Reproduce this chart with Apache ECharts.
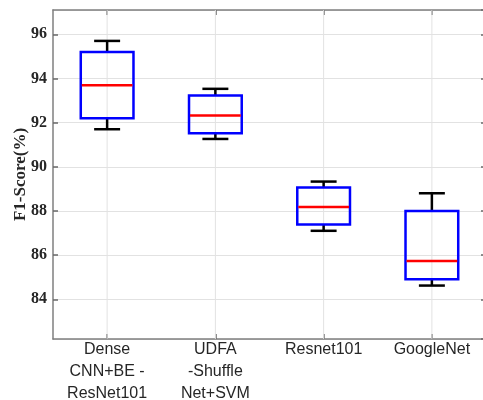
<!DOCTYPE html>
<html>
<head>
<meta charset="utf-8">
<script src="https://cdn.jsdelivr.net/npm/echarts@6/dist/echarts.min.js"></script>
<style>
  html, body { margin: 0; padding: 0; background: #fff; }
  #chart { width: 483px; height: 400px; }
</style>
</head>
<body>
<div id="chart"></div>
<script>
// Model names along the x axis
const categories = ['Dense\nCNN+BE -\nResNet101', 'UDFA\n-Shuffle\nNet+SVM', 'Resnet101', 'GoogleNet'];

// Five-number summaries of F1-score (%) per model
const whiskerLow  = [91.7, 91.26, 87.1, 84.62];
const quartile1   = [92.2, 91.52, 87.38, 84.91];
const medians     = [93.69, 92.32, 88.18, 85.73];
const quartile3   = [95.2, 93.23, 89.06, 88.0];
const whiskerHigh = [95.7, 93.53, 89.33, 88.8];

const yMin = 82.2, yMax = 97.1;

const boxData = categories.map((c, i) => [i, whiskerLow[i], quartile1[i], medians[i], quartile3[i], whiskerHigh[i]]);

const axisGray = '#7f7f7f';
const tickGray = '#6a6a6a';
const serifBold = { fontFamily: '"Liberation Serif", "Times New Roman", serif', fontWeight: 'bold' };

function renderBox(params, api) {
  const i = api.value(0);
  const band = api.size([1, 0])[0];
  const bw = band * 0.487;
  const cw = band * 0.24;
  const p = api.coord([i, api.value(1)]);
  const x = p[0];
  const yLo = p[1];
  const yQ1 = api.coord([i, api.value(2)])[1];
  const yMed = api.coord([i, api.value(3)])[1];
  const yQ3 = api.coord([i, api.value(4)])[1];
  const yHi = api.coord([i, api.value(5)])[1];
  const cs = params.coordSys;
  const black = { stroke: '#000', lineWidth: 2.5 };
  return {
    type: 'group',
    children: [
      { type: 'line', shape: { x1: x, y1: cs.y, x2: x, y2: cs.y + cs.height }, style: { stroke: '#e2e2e2', lineWidth: 1 }, z2: 0 },
      { type: 'line', shape: { x1: x, y1: yQ3, x2: x, y2: yHi }, style: black, z2: 1 },
      { type: 'line', shape: { x1: x, y1: yQ1, x2: x, y2: yLo }, style: black, z2: 1 },
      { type: 'line', shape: { x1: x - cw / 2, y1: yHi, x2: x + cw / 2, y2: yHi }, style: black, z2: 1 },
      { type: 'line', shape: { x1: x - cw / 2, y1: yLo, x2: x + cw / 2, y2: yLo }, style: black, z2: 1 },
      { type: 'rect', shape: { x: x - bw / 2, y: yQ3, width: bw, height: yQ1 - yQ3 }, style: { fill: 'none', stroke: '#0000ff', lineWidth: 2.5 }, z2: 2 },
      { type: 'line', shape: { x1: x - bw / 2 + 1, y1: yMed, x2: x + bw / 2 - 1, y2: yMed }, style: { stroke: '#ff0000', lineWidth: 2.5 }, z2: 3 }
    ]
  };
}

const chart = echarts.init(document.getElementById('chart'), null, { renderer: 'canvas' });

const yCommon = {
  type: 'value',
  min: yMin,
  max: yMax,
  splitNumber: 7,
  minInterval: 2,
  maxInterval: 2,
  axisLine: { show: true, lineStyle: { color: axisGray, width: 1.5 } },
  axisTick: { show: true, inside: true, length: 5, lineStyle: { color: tickGray, width: 1.5 } }
};

chart.setOption({
  animation: false,
  backgroundColor: '#fff',
  grid: { left: 53, right: -3, top: 10, bottom: 61, containLabel: false, outerBoundsMode: 'none' },
  xAxis: [
    {
      type: 'category',
      data: categories,
      position: 'bottom',
      boundaryGap: true,
      axisLine: { show: true, lineStyle: { color: axisGray, width: 1.5 } },
      axisTick: { show: true, inside: true, length: 5, alignWithLabel: true, lineStyle: { color: tickGray, width: 1.5 } },
      axisLabel: {
        interval: 0,
        margin: 0,
        color: '#262626',
        fontFamily: '"Liberation Sans", Arial, sans-serif',
        fontSize: 16,
        lineHeight: 21.7
      },
      splitLine: { show: false }
    },
    {
      type: 'category',
      data: categories,
      position: 'top',
      boundaryGap: true,
      axisLine: { show: true, lineStyle: { color: axisGray, width: 1.5 } },
      axisTick: { show: true, inside: true, length: 5, alignWithLabel: true, lineStyle: { color: tickGray, width: 1.5 } },
      axisLabel: { show: false },
      splitLine: { show: false }
    }
  ],
  yAxis: [
    Object.assign({}, yCommon, {
      position: 'left',
      name: 'F1-Score(%)',
      nameLocation: 'middle',
      nameGap: 24,
      nameMoveOverlap: false,
      nameTextStyle: Object.assign({ color: '#262626', fontSize: 17 }, serifBold),
      axisLabel: Object.assign({ color: '#262626', fontSize: 16, margin: 6, showMinLabel: false, showMaxLabel: false }, serifBold),
      splitLine: { show: true, lineStyle: { color: '#e2e2e2', width: 1 } }
    }),
    Object.assign({}, yCommon, {
      position: 'right',
      axisLabel: { show: false },
      splitLine: { show: false }
    })
  ],
  series: [
    {
      type: 'custom',
      xAxisIndex: 0,
      yAxisIndex: 0,
      renderItem: renderBox,
      encode: { x: 0, y: [1, 2, 3, 4, 5] },
      data: boxData,
      silent: true
    }
  ]
});
</script>
</body>
</html>
